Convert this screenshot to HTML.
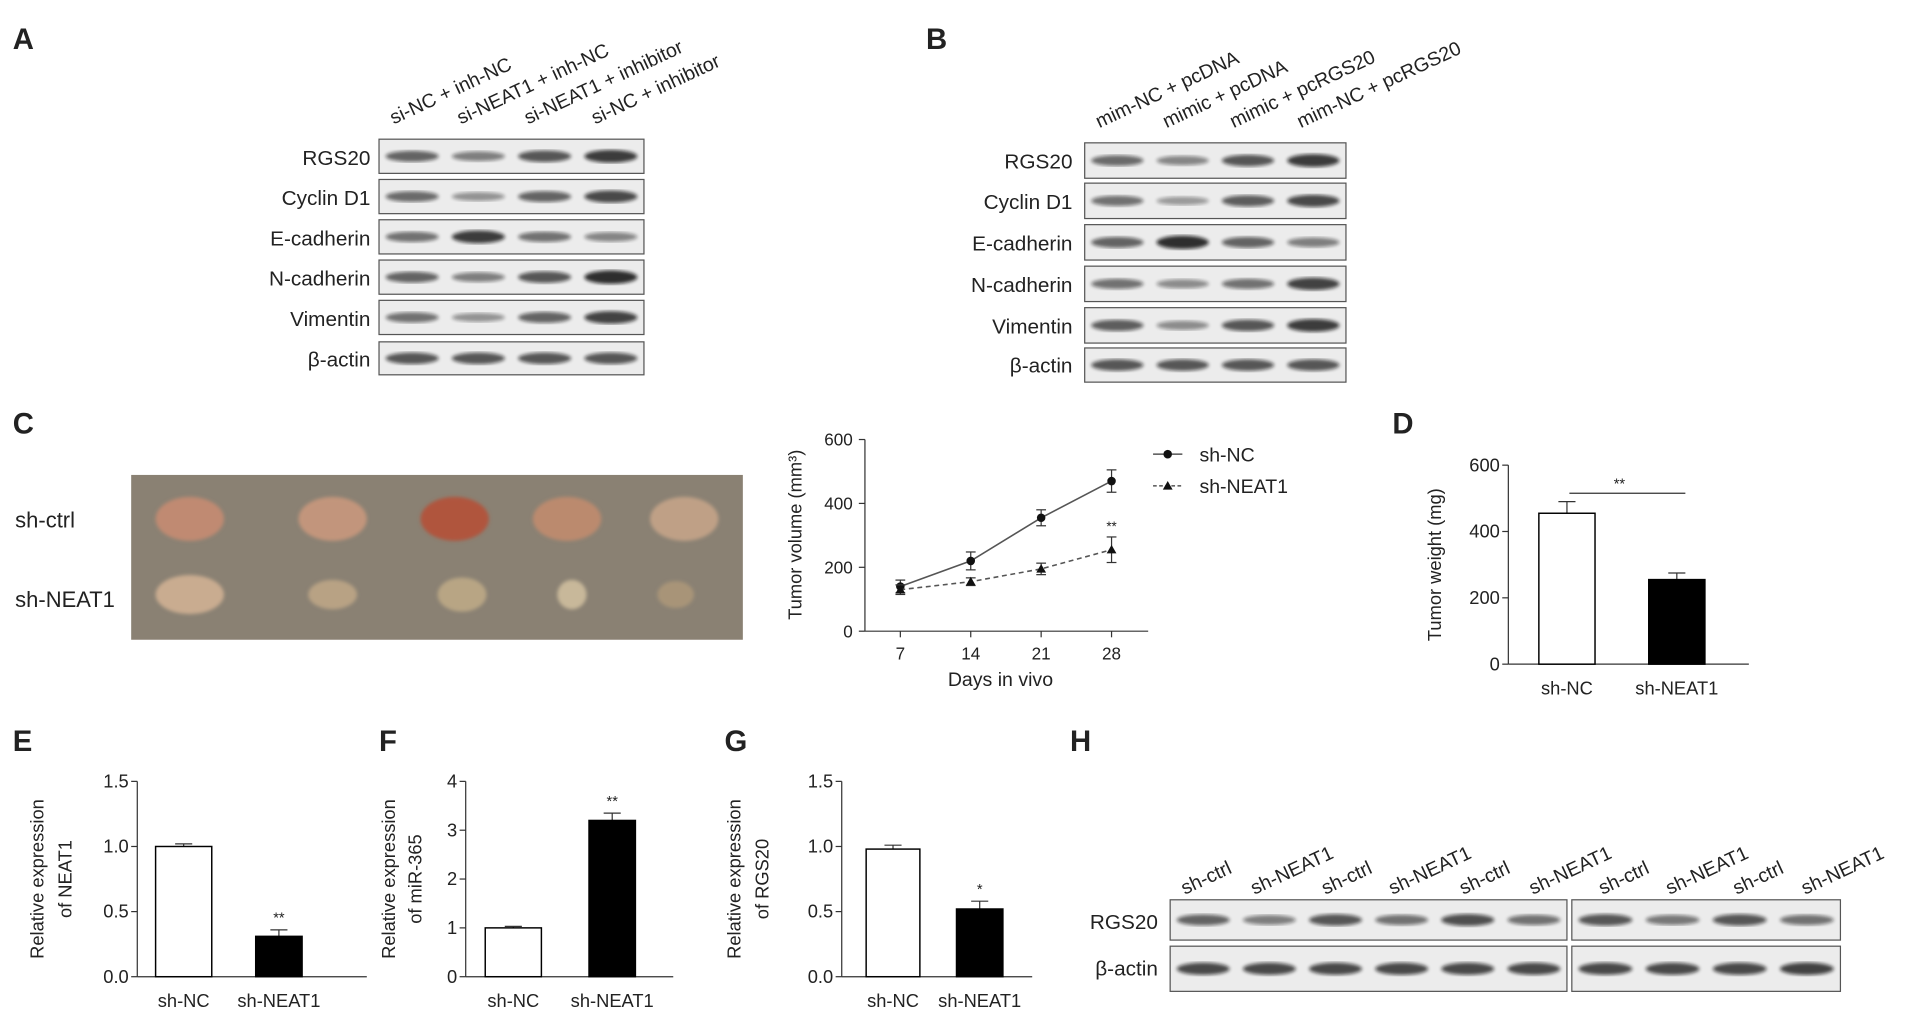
<!DOCTYPE html>
<html><head><meta charset="utf-8"><style>html,body{margin:0;padding:0;background:#fff}svg{display:block}text{font-family:"Liberation Sans",sans-serif;fill:#222}</style></head>
<body>
<svg id="fig" width="1913" height="1017" viewBox="0 0 1566 833" xmlns="http://www.w3.org/2000/svg">
<defs><filter id="blur"><feGaussianBlur stdDeviation="1.6"/></filter></defs>
<g id="g"></g>
</svg>
<script>
// Panel C line chart data
const days=[7,14,21,28];
const ncVol=[140,220,355,470];
const ncErr=[20,28,25,35];
const neatVol=[130,155,195,255];
const neatErr=[15,12,18,40];
const volTicks=[0,200,400,600];
// Panel D
const dCats=['sh-NC','sh-NEAT1'];
const dVals=[455,255];
const dErr=[35,20];
const dTicks=[0,200,400,600];
// Panel E
const eVals=[1.0,0.31];
const eErr=[0.02,0.05];
const eTicks=[0,0.5,1.0,1.5];
// Panel F
const fVals=[1.0,3.2];
const fErr=[0.03,0.15];
const fTicks=[0,1,2,3,4];
// Panel G
const gVals=[0.98,0.52];
const gErr=[0.03,0.06];
const gTicks=[0,0.5,1.0,1.5];

const NS='http://www.w3.org/2000/svg';
const G=document.getElementById('g');
function el(tag,attrs,parent,txt){const e=document.createElementNS(NS,tag);for(const k in attrs)e.setAttribute(k,attrs[k]);if(txt!==undefined)e.textContent=txt;(parent||G).appendChild(e);return e;}
function label(t,x,y){const e=el('text',{x:x,y:y,'font-size':24,'font-weight':'bold'},G,t);

}
label('A',10,40);label('B',758,40);label('C',10,355);label('D',1140,355);label('E',10,615);label('F',310,615);label('G',593,615);label('H',876,615);

function blot(x0,x1,y0,y1,name,ints){
  const g=el('g',{});
  
  
  el('rect',{x:x0,y:y0,width:x1-x0,height:y1-y0,fill:'#ececec',stroke:'#555','stroke-width':1},g);
  const n=ints.length,w=(x1-x0)/n;
  ints.forEach((v,i)=>{const b=el('ellipse',{cx:x0+w*(i+0.5),cy:(y0+y1)/2,rx:w*0.4,ry:3+v*2.5,fill:'#111',opacity:0.25+v*0.6,filter:'url(#blur)'},g);
  
  });
}
function txt(t,x,y,size,anchor,name,rot){const a={x:x,y:y,'font-size':size,'text-anchor':anchor||'start'};if(rot)a.transform='rotate('+rot+' '+x+' '+y+')';const e=el('text',a,G,t);

return e;}

// Panel A
const aRows=['RGS20','Cyclin D1','E-cadherin','N-cadherin','Vimentin','β-actin'];
const aY=[[114,142],[147,175],[180,208],[213,241],[246,274],[280,307]];
const aInt=[[0.6,0.4,0.7,0.9],[0.55,0.25,0.6,0.8],[0.5,0.9,0.5,0.35],[0.6,0.4,0.7,1],[0.5,0.25,0.6,0.85],[0.7,0.7,0.7,0.7]];
aRows.forEach((r,i)=>{blot(310,527,aY[i][0],aY[i][1],'blot-a-'+r.toLowerCase().replace(/\s|β-/g,''),aInt[i]);txt(r,303,aY[i][1]-7,17,'end','row-label-a');});
['si-NC + inh-NC','si-NEAT1 + inh-NC','si-NEAT1 + inhibitor','si-NC + inhibitor'].forEach((t,i)=>txt(t,322+i*55,102,16,'start','column-header-a',-25));
// Panel B
const bRows=aRows;
const bY=[[117,146],[150,179],[184,213],[218,247],[252,281],[285,313]];
const bInt=[[0.55,0.35,0.7,0.9],[0.5,0.2,0.65,0.8],[0.6,1,0.6,0.4],[0.5,0.3,0.5,0.85],[0.65,0.3,0.7,0.9],[0.7,0.7,0.7,0.7]];
bRows.forEach((r,i)=>{blot(888,1102,bY[i][0],bY[i][1],'blot-b-'+r.toLowerCase().replace(/\s|β-/g,''),bInt[i]);txt(r,878,bY[i][1]-8,17,'end','row-label-b');});
['mim-NC + pcDNA','mimic + pcDNA','mimic + pcRGS20','mim-NC + pcRGS20'].forEach((t,i)=>txt(t,900+i*55,105,16,'start','column-header-b',-25));

// Panel C photo
const ph=el('g',{});
el('rect',{x:107,y:389,width:501,height:135,fill:'#8a8173'},ph);
const topX=[155,272,372,464,560],topC=['#c08a72','#c2957c','#b0553c','#bb8a6e','#bfa086'];
const botX=[155,272,378,468,553],botC=['#c9ac90','#b8a284','#b8a584','#c8b89a','#a89478'],botR=[[28,16],[20,12],[20,14],[12,12],[15,11]];
topX.forEach((x,i)=>el('ellipse',{cx:x,cy:425,rx:28,ry:18,fill:topC[i],filter:'url(#blur)'},ph));
botX.forEach((x,i)=>el('ellipse',{cx:x,cy:487,rx:botR[i][0],ry:botR[i][1],fill:botC[i],filter:'url(#blur)'},ph));
txt('sh-ctrl',12,432,18,'start','row-label-sh-ctrl');txt('sh-NEAT1',12,497,18,'start','row-label-sh-neat1');

// line chart
const lx=d=>737+(d-7)*(910-737)/21, ly=v=>517-v*(157/600);
el('line',{x1:708,y1:360,x2:708,y2:517,stroke:'#333'});el('line',{x1:708,y1:517,x2:940,y2:517,stroke:'#333'});
volTicks.forEach(v=>{el('line',{x1:703,x2:708,y1:ly(v),y2:ly(v),stroke:'#333'});txt(String(v),698,ly(v)+5,14,'end','y-tick-c');});
days.forEach(d=>{el('line',{x1:lx(d),x2:lx(d),y1:517,y2:522,stroke:'#333'});txt(String(d),lx(d),540,14,'middle','x-tick-c');});
txt('Days in vivo',819,562,16,'middle','x-axis-title-c');
txt('Tumor volume (mm³)',656,438,15,'middle','y-axis-title-c',-90);
function series(vals,errs,dash,marker,name){
  const p=el('polyline',{points:days.map((d,i)=>lx(d)+','+ly(vals[i])).join(' '),fill:'none',stroke:'#555','stroke-width':1.3,'stroke-dasharray':dash});
  
  days.forEach((d,i)=>{const x=lx(d);el('line',{x1:x,x2:x,y1:ly(vals[i]-errs[i]),y2:ly(vals[i]+errs[i]),stroke:'#333'});
    el('line',{x1:x-4,x2:x+4,y1:ly(vals[i]+errs[i]),y2:ly(vals[i]+errs[i]),stroke:'#333'});el('line',{x1:x-4,x2:x+4,y1:ly(vals[i]-errs[i]),y2:ly(vals[i]-errs[i]),stroke:'#333'});
    const m=marker==='c'?el('circle',{cx:x,cy:ly(vals[i]),r:3.5,fill:'#111'}):el('polygon',{points:`${x},${ly(vals[i])-4} ${x-4},${ly(vals[i])+3} ${x+4},${ly(vals[i])+3}`,fill:'#111'});
    });
}
series(ncVol,ncErr,'none','c','sh-nc');series(neatVol,neatErr,'4 3','t','sh-neat1');
txt('**',lx(28),ly(neatVol[3]+neatErr[3])-5,11,'middle','significance-c');
el('line',{x1:944,x2:968,y1:372,y2:372,stroke:'#333'});el('circle',{cx:956,cy:372,r:3.5,fill:'#111'});
txt('sh-NC',982,378,16,'start','legend-sh-nc');
el('line',{x1:944,x2:968,y1:398,y2:398,stroke:'#333','stroke-dasharray':'3 2'});el('polygon',{points:'956,394 952,401 960,401',fill:'#111'});
txt('sh-NEAT1',982,404,16,'start','legend-sh-neat1');

// bar chart helper
function bars(ax,ytop,ybot,ticks,vals,errs,cx,cats,fmt,title1,title2,t1x,t2x,sig,name,xend,ws){
  const max=ticks[ticks.length-1],y=v=>ybot-v*(ybot-ytop)/max;
  el('line',{x1:ax,x2:ax,y1:ytop,y2:ybot,stroke:'#333'});el('line',{x1:ax,x2:xend,y1:ybot,y2:ybot,stroke:'#333'});
  ticks.forEach(t=>{el('line',{x1:ax-5,x2:ax,y1:y(t),y2:y(t),stroke:'#333'});txt(fmt(t),ax-7,y(t)+5,15,'end','y-tick-'+name);});
  vals.forEach((v,i)=>{
    el('line',{x1:cx[i],x2:cx[i],y1:y(v),y2:y(v+errs[i]),stroke:'#333'});el('line',{x1:cx[i]-7,x2:cx[i]+7,y1:y(v+errs[i]),y2:y(v+errs[i]),stroke:'#333'});
    const w=ws[i];
    const r=el('rect',{x:cx[i]-w/2,y:y(v),width:w,height:ybot-y(v),fill:i?'#000':'#fff',stroke:'#000','stroke-width':1.2});
    
    txt(cats[i],cx[i],ybot+25,15,'middle','x-tick-'+name);
  });
  const mid=(ytop+ybot)/2;
  txt(title1,t1x,mid,15,'middle','y-axis-title-'+name,-90);
  if(title2)txt(title2,t2x,mid,15,'middle','y-axis-title-'+name,-90);
  if(sig)txt(sig,cx[1],y(vals[1]+errs[1])-6,12,'middle','significance-'+name);
}
const cats2=['sh-NC','sh-NEAT1'];
bars(1235,381,544,dTicks,dVals,dErr,[1283,1373],dCats,String,'Tumor weight (mg)',null,1180,0,null,'d',1432,[46,46]);
el('line',{x1:1285,x2:1380,y1:404,y2:404,stroke:'#333'});txt('**',1326,400,12,'middle','significance-d');
const f1=t=>t.toFixed(1);
bars(112,640,800,eTicks,eVals,eErr,[150,228],cats2,f1,'Relative expression','of NEAT1',35,58,'**','e',300,[46,38]);
bars(381,640,800,fTicks,fVals,fErr,[420,501],cats2,String,'Relative expression','of miR-365',323,345,'**','f',551,[46,38]);
bars(689,640,800,gTicks,gVals,gErr,[731,802],cats2,f1,'Relative expression','of RGS20',606,629,'*','g',845,[44,38]);

// Panel H
const hInt1=[0.6,0.4,0.7,0.5,0.75,0.5],hInt2=[0.7,0.45,0.7,0.5];
blot(958,1283,737,770,'blot-h-rgs20-left',hInt1);blot(1287,1507,737,770,'blot-h-rgs20-right',hInt2);
blot(958,1283,775,812,'blot-h-actin-left',[0.8,0.8,0.8,0.8,0.8,0.8]);blot(1287,1507,775,812,'blot-h-actin-right',[0.8,0.8,0.8,0.85]);
txt('RGS20',948,761,17,'end','row-label-h');txt('β-actin',948,799,17,'end','row-label-h');
const hx=[970,1027,1085,1140,1198,1255,1312,1367,1422,1478];
hx.forEach((x,i)=>txt(i%2?'sh-NEAT1':'sh-ctrl',x,733,16,'start','column-header-h',-25));
</script>
</body></html>
